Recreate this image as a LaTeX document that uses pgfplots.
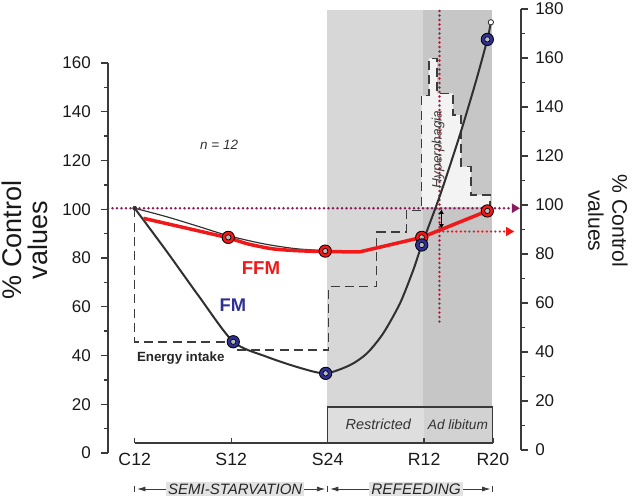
\documentclass[border=0pt]{standalone}
\usepackage{pgfplots}
\pgfplotsset{compat=1.18}
\usepackage{fontspec}
\setmainfont{Liberation Sans}
\usetikzlibrary{arrows.meta}
\definecolor{axcol}{HTML}{3A3A3A}
\definecolor{lgray}{HTML}{D7D7D7}
\definecolor{dgray}{HTML}{C6C6C6}
\definecolor{boxl}{HTML}{DEDEDE}
\definecolor{boxr}{HTML}{D2D2D2}
\definecolor{histfill}{HTML}{F3F3F3}
\definecolor{ffmred}{HTML}{F01818}
\definecolor{fmblue}{HTML}{2E3192}
\definecolor{purp}{HTML}{8A1A5C}
\definecolor{hyp}{HTML}{A61E3C}
\definecolor{curvecol}{HTML}{303030}
\definecolor{dashcol}{HTML}{3C3C3C}
\definecolor{txtgray}{HTML}{E2E2E2}
\pgfplotsset{
  every axis/.append style={
    /pgf/number format/assume math mode=true,
    axis line style={draw=axcol, line width=0.8pt},
    every tick/.style={draw=axcol, line width=0.8pt},
  }
}
\begin{document}
\begin{tikzpicture}
\useasboundingbox (0pt,0pt) rectangle (379.8pt,298.2pt);

% ---------- data axis ----------
\begin{axis}[at={(64.8pt,27pt)}, anchor=south west,
  x=4.824pt, y=1.47pt, xmin=-3.32, xmax=48.05, ymin=0, ymax=180,
  hide axis, clip=false]
% shaded refeeding background
\fill[lgray] (axis cs:23.9,18.4) rectangle (axis cs:35.9,180.4);
\fill[dgray] (axis cs:35.9,18.4) rectangle (axis cs:44.4,180.4);
% Restricted / Ad libitum box
\fill[boxl] (axis cs:24,3.67) rectangle (axis cs:36,18.4);
\fill[boxr] (axis cs:36,3.67) rectangle (axis cs:44.55,18.4);
\draw[axcol, line width=0.7pt] (axis cs:24,3.67) rectangle (axis cs:44.55,18.4);
\node[font=\fontsize{8.7}{10}\itshape, text=black!80] at (axis cs:30.3,11.2) {Restricted};
\node[font=\fontsize{8.2}{10}\itshape, text=black!80] at (axis cs:40.2,11.2) {Ad libitum};
% hyperphagia area
\addplot[fill=histfill, draw=none] coordinates {
 (35.7,100) (35.7,145.5) (36.6,145.5) (36.6,160.7) (37.6,160.7) (37.6,146.4)
 (39.6,146.4) (39.6,137.5) (40.6,137.5) (40.6,116.5) (41.8,116.5) (41.8,105)
 (44.2,105) (44.2,100)} -- cycle;
% energy intake
\addplot[dashcol, line width=0.9pt, dash pattern=on 5.4pt off 3.2pt] coordinates {
 (0,99.5) (0,44.8) (12.2,44.8) (12.2,41.6) (24.1,41.6) (24.1,67.5) (30.1,67.5)
 (30.1,89.7) (33.8,89.7) (33.8,98.6) (35.7,98.6) (35.7,145.5) (36.6,145.5)
 (36.6,160.7) (37.6,160.7) (37.6,146.4) (39.6,146.4) (39.6,137.5) (40.6,137.5)
 (40.6,116.5) (41.8,116.5) (41.8,105) (44.2,105) (44.2,100.5)};
% 100 % reference line
\draw[purp, line width=1.6pt, line cap=round, dash pattern=on 0pt off 2.7pt]
  (axis cs:-3.32,99.5) -- (axis cs:47.0,99.5);
\fill[purp] (axis cs:47.9,99.5) -- (axis cs:46.9,101.5) -- (axis cs:46.9,97.5) -- cycle;
% hyperphagia line
\draw[hyp, line width=1.6pt, line cap=round, dash pattern=on 0pt off 2.7pt]
  (axis cs:37.9,180) -- (axis cs:37.9,52.7);
\node[rotate=90, font=\fontsize{8.2}{10}\itshape, text=black!75] at (axis cs:37.75,123.5) {Hyperphagia};
% red arrow
\draw[ffmred, line width=1.5pt, line cap=round, dash pattern=on 0pt off 2.6pt]
  (axis cs:38.4,90) -- (axis cs:46.3,90);
\fill[ffmred] (axis cs:47.2,90) -- (axis cs:46.2,91.9) -- (axis cs:46.2,88.1) -- cycle;
% black double arrow
\draw[black, line width=0.6pt, {Latex[length=3pt,width=3pt]}-{Latex[length=3pt,width=3pt]}]
  (axis cs:38.15,99.2) -- (axis cs:38.15,91);
% FM curve
\addplot[curvecol, line width=1.2pt, smooth, tension=0.45] coordinates {
 (0,99.5) (4,81.8) (8,63.5) (12.26,45.0) (16.4,38.9) (20.6,34.3) (23.75,32.1)
 (26.8,35.5) (28.9,40.3) (30.9,48.4) (33,60.7) (34.65,74.3) (35.7,84.5)
 (38,105) (40.5,130) (42.5,152) (43.86,168.4) (44.3,175.4)};
% FFM thin dark line
\addplot[curvecol, line width=0.7pt, smooth] coordinates {
 (0,99.5) (4,96) (8,92) (11.64,88.3) (16,85) (20,83) (23.7,82.2)};
% FFM red line
\addplot[ffmred, line width=2.1pt, smooth, tension=0.4] coordinates {
 (1.07,95.4) (4,93.2) (8,90.2) (11.64,87.4) (14,85) (17,83) (20,82.2)
 (23.7,81.8) (28,81.7)};
\addplot[ffmred, line width=2.1pt] coordinates {(28,81.7) (35.7,87.6) (43.86,98.4)};
% start point and end point
\addplot[only marks, mark=*, mark size=1.2pt, mark options={fill=curvecol, draw=curvecol}] coordinates {(0,99.5)};
\addplot[only marks, mark=*, mark size=1.6pt, mark options={fill=white, draw=curvecol, line width=0.5pt}] coordinates {(44.3,175.4)};
% FFM markers
\addplot[only marks, mark=*, mark size=3.7pt, mark options={fill=ffmred, draw=black, line width=0.5pt}] coordinates {
 (11.64,87.6) (23.7,82.0) (35.7,87.6) (43.86,98.4)};
\addplot[only marks, mark=*, mark size=1.6pt, mark options={fill=gray!55, draw=black, line width=0.4pt}] coordinates {
 (11.64,87.6) (23.7,82.0) (35.7,87.6) (43.86,98.4)};
% FM markers
\addplot[only marks, mark=*, mark size=3.7pt, mark options={fill=fmblue, draw=black, line width=0.5pt}] coordinates {
 (12.26,45.0) (23.75,32.1) (35.7,84.5) (43.86,168.4)};
\addplot[only marks, mark=*, mark size=1.6pt, mark options={fill=gray!55, draw=black, line width=0.4pt}] coordinates {
 (12.26,45.0) (23.75,32.1) (35.7,84.5) (43.86,168.4)};
% text labels
\node[font=\fontsize{11.2}{13}\bfseries, text=ffmred] at (axis cs:15.7,75.1) {FFM};
\node[font=\fontsize{11}{13}\bfseries, text=fmblue] at (axis cs:12.2,60) {FM};
\node[anchor=west, inner sep=0pt, font=\fontsize{8}{10}\bfseries, text=black!85] at (axis cs:0.25,38.4) {Energy intake};
\node[font=\fontsize{8.1}{10}\itshape, text=black!80] at (axis cs:10.5,125.3) {n = 12};
% phase arrows
\draw[axcol, line width=0.5pt] (axis cs:0,-16.3) -- (axis cs:0,-13.9);
\draw[axcol, line width=0.5pt] (axis cs:24,-16.3) -- (axis cs:24,-13.9);
\draw[axcol, line width=0.5pt] (axis cs:44.55,-16.3) -- (axis cs:44.55,-13.9);
\draw[axcol, line width=0.5pt, {Latex[length=5pt,width=3pt]}-{Latex[length=5pt,width=3pt]}]
  (axis cs:0.3,-15.1) -- (axis cs:23.7,-15.1);
\draw[axcol, line width=0.5pt, {Latex[length=5pt,width=3pt]}-{Latex[length=5pt,width=3pt]}]
  (axis cs:24.3,-15.1) -- (axis cs:44.25,-15.1);
\node[fill=txtgray, inner sep=1.2pt, font=\fontsize{9}{10}\itshape, text=black!85] at (axis cs:12.5,-15.1) {SEMI-STARVATION};
\node[fill=txtgray, inner sep=1.2pt, font=\fontsize{9.2}{10}\itshape, text=black!85] at (axis cs:35.0,-15.1) {REFEEDING};
\end{axis}

% ---------- left axis ----------
\begin{axis}[at={(64.8pt,26.4pt)}, anchor=south west,
  x=4.824pt, y=1.4625pt, xmin=-3.32, xmax=48.05, ymin=0, ymax=160,
  axis y line*=left, axis x line=none,
  ytick={0,20,...,160}, minor y tick num=1,
  tick align=outside, major tick length=4.2pt, minor tick length=2.4pt,
  yticklabel style={font=\fontsize{10.2}{12}\selectfont, text=black!90, xshift=-2.6pt}]
\addplot[draw=none] coordinates {(0,0)};
\end{axis}

% ---------- right axis ----------
\begin{axis}[at={(64.8pt,28.2pt)}, anchor=south west,
  x=4.824pt, y=1.47pt, xmin=-3.32, xmax=48.05, ymin=0, ymax=180,
  axis y line*=right, axis x line=none,
  ytick={0,20,...,180}, minor y tick num=1,
  tick align=outside, major tick length=4.2pt, minor tick length=2.4pt,
  yticklabel style={font=\fontsize{10.2}{12}\selectfont, text=black!90, xshift=0.8pt}]
\addplot[draw=none] coordinates {(0,0)};
\end{axis}

% ---------- x axis ----------
\begin{axis}[at={(80.82pt,32.4pt)}, anchor=south west,
  x=4.824pt, y=10pt, xmin=0, xmax=44.55, ymin=0, ymax=1,
  axis x line*=bottom, axis y line=none,
  xtick={0,12,24,36,44.55}, xticklabels={C12,S12,S24,R12,R20},
  tick align=inside, major tick length=3pt,
  xticklabel style={font=\fontsize{10.6}{12}\selectfont, text=black!90, yshift=-2.5pt}]
\addplot[draw=none] coordinates {(0,0)};
\end{axis}

% axis titles
\node[rotate=90, align=center, font=\fontsize{16.2}{15.3}\selectfont, text=black!90] at (15pt,154.2pt) {\% Control\\values};
\node[rotate=-90, align=center, font=\fontsize{12.7}{14.4}\selectfont, text=black!90] at (364.8pt,165.6pt) {\% Control\\values};
\end{tikzpicture}
\end{document}
